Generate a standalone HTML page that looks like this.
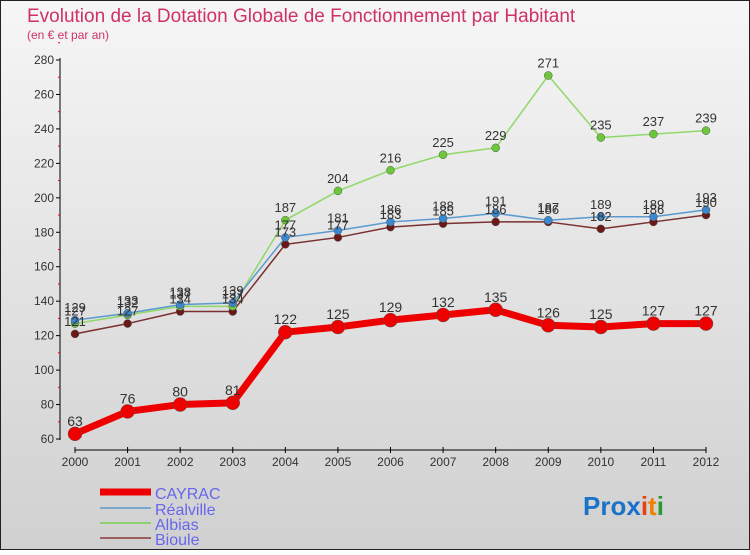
<!DOCTYPE html>
<html><head><meta charset="utf-8"><style>
body{margin:0;width:750px;height:550px;overflow:hidden;font-family:"Liberation Sans",sans-serif}
</style></head><body>
<svg id="c" width="750" height="550" xmlns="http://www.w3.org/2000/svg">
<defs><linearGradient id="bg" x1="0" y1="0" x2="0" y2="1"><stop offset="0" stop-color="#f6f6f6"/><stop offset="1" stop-color="#d0d0d0"/></linearGradient></defs>
<rect x="0.5" y="0.5" width="749" height="549" fill="url(#bg)" stroke="#222"/>
<text x="27" y="22" font-size="19" fill="#d0306a">Evolution de la Dotation Globale de Fonctionnement par Habitant</text>
<text x="27" y="39" font-size="12" fill="#d0306a">(en € et par an)</text>
<g id="axes"></g><g id="series"></g><g id="labels"></g>
<g>
<line x1="100" y1="492" x2="151" y2="492" stroke="#e00" stroke-width="7"/>
<text x="155" y="499" font-size="16" fill="#6666ee">CAYRAC</text>
<line x1="100" y1="508" x2="151" y2="508" stroke="#7aa9cf" stroke-width="2"/>
<text x="155" y="515" font-size="16" fill="#6666ee">Réalville</text>
<line x1="100" y1="523" x2="151" y2="523" stroke="#8ed070" stroke-width="2"/>
<text x="155" y="530" font-size="16" fill="#6666ee">Albias</text>
<line x1="100" y1="538" x2="151" y2="538" stroke="#9a6060" stroke-width="2"/>
<text x="155" y="545" font-size="16" fill="#6666ee">Bioule</text>
</g>
<g font-size="26" font-weight="bold">
<text x="583" y="515"><tspan fill="#1a73c8">Pro</tspan><tspan fill="#1a6fd0">x</tspan><tspan fill="#e84010">i</tspan><tspan fill="#f08000">t</tspan><tspan fill="#2a9a30">i</tspan></text>
</g>
</svg>
<script>
const years=[2000,2001,2002,2003,2004,2005,2006,2007,2008,2009,2010,2011,2012];
const cayrac=[63,76,80,81,122,125,129,132,135,126,125,127,127];
const realville=[129,133,138,139,177,181,186,188,191,187,189,189,193];
const albias=[127,132,137,137,187,204,216,225,229,271,235,237,239];
const bioule=[121,127,134,134,173,177,183,185,186,186,182,186,190];
const yTicks=[60,80,100,120,140,160,180,200,220,240,260,280];
const NS="http://www.w3.org/2000/svg";
const xS=i=>75+i*(706-75)/12;
const yS=v=>439-(v-60)*(439-60)/220;
function mk(tag,attrs,parent){const e=document.createElementNS(NS,tag);for(const k in attrs)e.setAttribute(k,attrs[k]);document.getElementById(parent).appendChild(e);return e;}
let e=mk('line',{x1:60,y1:58,x2:60,y2:440,stroke:'#000'},'axes');


e=mk('line',{x1:75,y1:450,x2:706,y2:450,stroke:'#000'},'axes');


yTicks.forEach(v=>{
 mk('line',{x1:56,y1:yS(v),x2:60,y2:yS(v),stroke:'#000'},'axes');
 mk('line',{x1:58,y1:yS(v+10),x2:60,y2:yS(v+10),stroke:'#e00'},'axes');
 const t=mk('text',{x:54,y:yS(v)+4,'text-anchor':'end','font-size':12,fill:'#333'},'axes');
 t.textContent=v;
 
 
});
years.forEach((y,i)=>{
 mk('line',{x1:xS(i),y1:447,x2:xS(i),y2:453,stroke:'#000'},'axes');
 const t=mk('text',{x:xS(i),y:466,'text-anchor':'middle','font-size':12,fill:'#333'},'axes');
 t.textContent=y;
 
 
});
function series(data,name,color,dot,w,r,fs){
 const p=mk('polyline',{points:data.map((v,i)=>xS(i)+','+yS(v)).join(' '),fill:'none',stroke:color,'stroke-width':w,'stroke-linejoin':'round'},'series');
 
 
 data.forEach((v,i)=>{
  const c=mk('circle',{cx:xS(i),cy:yS(v),r:r,fill:dot,stroke:'#555','stroke-width':0.5},'series');
  
  
  const t=mk('text',{x:xS(i),y:yS(v)-8,'text-anchor':'middle','font-size':fs,fill:'#333'},'labels');
  t.textContent=v;
  
  
 });
}
series(bioule,'bioule','#7a3030','#6a1818',1.5,4,13);
series(albias,'albias','#90d868','#6cc838',1.5,4,13);
series(realville,'realville','#5a9ad0','#3a88d0',1.5,4,13);
series(cayrac,'cayrac','#ee0000','#ee0000',7,7,14);
</script>
</body></html>
